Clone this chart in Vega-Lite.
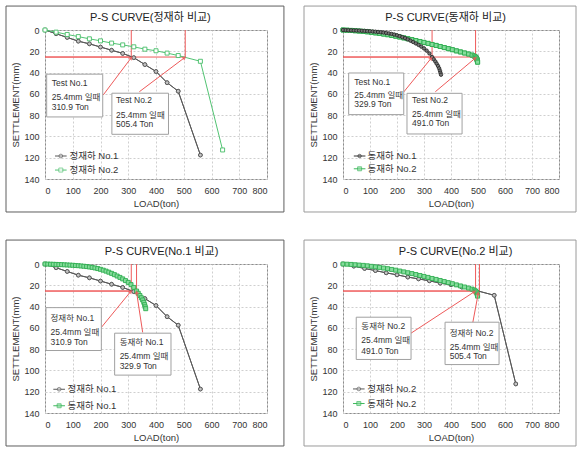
{
"$schema": "https://vega.github.io/schema/vega-lite/v6.json",
"padding": 5,
"background": "white",
"config": {
 "font": "Liberation Sans, Noto Sans CJK KR",
 "view": {"stroke": "#8c8c8c", "strokeWidth": 1},
 "scale": {"continuousPadding": 0},
 "axis": {"grid": true, "gridColor": "#cfcfcf", "gridDash": [2,2], "gridWidth": 1, "domain": false, "ticks": false, "tickSize": 0, "labelOverlap": false, "labelFontSize": 9, "labelColor": "#333333", "titleFontSize": 9.5, "titleFontWeight": "normal", "titleColor": "#333333"},
 "axisX": {"labelPadding": 7, "titlePadding": 3},
 "axisY": {"labelPadding": 6, "titlePadding": 3},
 "text": {"fontSize": 8.5, "color": "#333333", "align": "left", "baseline": "middle"}
},
"datasets": {
 "ps": [
  {"series":"정재하 No.1","load":0,"settle":0},
  {"series":"정재하 No.1","load":40,"settle":3.5},
  {"series":"정재하 No.1","load":80,"settle":7},
  {"series":"정재하 No.1","load":120,"settle":10.5},
  {"series":"정재하 No.1","load":160,"settle":13},
  {"series":"정재하 No.1","load":200,"settle":16},
  {"series":"정재하 No.1","load":240,"settle":19},
  {"series":"정재하 No.1","load":280,"settle":22},
  {"series":"정재하 No.1","load":320,"settle":26},
  {"series":"정재하 No.1","load":360,"settle":32.5},
  {"series":"정재하 No.1","load":400,"settle":39},
  {"series":"정재하 No.1","load":440,"settle":49.5},
  {"series":"정재하 No.1","load":480,"settle":57.5},
  {"series":"정재하 No.1","load":560,"settle":117.5},
  {"series":"정재하 No.2","load":0,"settle":0},
  {"series":"정재하 No.2","load":40,"settle":2},
  {"series":"정재하 No.2","load":80,"settle":4.2},
  {"series":"정재하 No.2","load":120,"settle":6.2},
  {"series":"정재하 No.2","load":160,"settle":8.3},
  {"series":"정재하 No.2","load":200,"settle":10.2},
  {"series":"정재하 No.2","load":240,"settle":12.3},
  {"series":"정재하 No.2","load":280,"settle":14},
  {"series":"정재하 No.2","load":320,"settle":15.8},
  {"series":"정재하 No.2","load":360,"settle":18},
  {"series":"정재하 No.2","load":400,"settle":19.5},
  {"series":"정재하 No.2","load":440,"settle":21.7},
  {"series":"정재하 No.2","load":480,"settle":24},
  {"series":"정재하 No.2","load":560,"settle":29.4},
  {"series":"정재하 No.2","load":640,"settle":112.7},
  {"series":"동재하 No.1","load":0,"settle":0},
  {"series":"동재하 No.1","load":10,"settle":0.1},
  {"series":"동재하 No.1","load":20,"settle":0.2},
  {"series":"동재하 No.1","load":30,"settle":0.3},
  {"series":"동재하 No.1","load":40,"settle":0.4},
  {"series":"동재하 No.1","load":50,"settle":0.5},
  {"series":"동재하 No.1","load":60,"settle":0.6},
  {"series":"동재하 No.1","load":70,"settle":0.75},
  {"series":"동재하 No.1","load":80,"settle":0.9},
  {"series":"동재하 No.1","load":90,"settle":1.05},
  {"series":"동재하 No.1","load":100,"settle":1.2},
  {"series":"동재하 No.1","load":110,"settle":1.4},
  {"series":"동재하 No.1","load":120,"settle":1.6},
  {"series":"동재하 No.1","load":130,"settle":1.85},
  {"series":"동재하 No.1","load":140,"settle":2.1},
  {"series":"동재하 No.1","load":150,"settle":2.4},
  {"series":"동재하 No.1","load":160,"settle":2.8},
  {"series":"동재하 No.1","load":170,"settle":3.2},
  {"series":"동재하 No.1","load":180,"settle":3.7},
  {"series":"동재하 No.1","load":190,"settle":4.3},
  {"series":"동재하 No.1","load":200,"settle":5.0},
  {"series":"동재하 No.1","load":210,"settle":5.8},
  {"series":"동재하 No.1","load":220,"settle":6.7},
  {"series":"동재하 No.1","load":230,"settle":7.7},
  {"series":"동재하 No.1","load":240,"settle":8.8},
  {"series":"동재하 No.1","load":250,"settle":10.0},
  {"series":"동재하 No.1","load":260,"settle":11.3},
  {"series":"동재하 No.1","load":270,"settle":12.6},
  {"series":"동재하 No.1","load":280,"settle":14.0},
  {"series":"동재하 No.1","load":290,"settle":15.6},
  {"series":"동재하 No.1","load":300,"settle":17.3},
  {"series":"동재하 No.1","load":310,"settle":19.4},
  {"series":"동재하 No.1","load":320,"settle":22.0},
  {"series":"동재하 No.1","load":330,"settle":25.4},
  {"series":"동재하 No.1","load":336,"settle":27.5},
  {"series":"동재하 No.1","load":342,"settle":29.6},
  {"series":"동재하 No.1","load":347,"settle":31.7},
  {"series":"동재하 No.1","load":352,"settle":33.8},
  {"series":"동재하 No.1","load":356,"settle":36.0},
  {"series":"동재하 No.1","load":359,"settle":38.2},
  {"series":"동재하 No.1","load":361,"settle":40.2},
  {"series":"동재하 No.1","load":363,"settle":42.0},
  {"series":"동재하 No.2","load":0,"settle":0},
  {"series":"동재하 No.2","load":15,"settle":0.2},
  {"series":"동재하 No.2","load":30,"settle":0.4},
  {"series":"동재하 No.2","load":45,"settle":0.7},
  {"series":"동재하 No.2","load":60,"settle":1.0},
  {"series":"동재하 No.2","load":75,"settle":1.3},
  {"series":"동재하 No.2","load":90,"settle":1.7},
  {"series":"동재하 No.2","load":105,"settle":2.2},
  {"series":"동재하 No.2","load":120,"settle":2.7},
  {"series":"동재하 No.2","load":135,"settle":3.2},
  {"series":"동재하 No.2","load":150,"settle":3.8},
  {"series":"동재하 No.2","load":165,"settle":4.4},
  {"series":"동재하 No.2","load":180,"settle":5.1},
  {"series":"동재하 No.2","load":195,"settle":5.8},
  {"series":"동재하 No.2","load":210,"settle":6.6},
  {"series":"동재하 No.2","load":225,"settle":7.4},
  {"series":"동재하 No.2","load":240,"settle":8.2},
  {"series":"동재하 No.2","load":255,"settle":9.0},
  {"series":"동재하 No.2","load":270,"settle":9.9},
  {"series":"동재하 No.2","load":285,"settle":10.8},
  {"series":"동재하 No.2","load":300,"settle":11.7},
  {"series":"동재하 No.2","load":315,"settle":12.6},
  {"series":"동재하 No.2","load":330,"settle":13.6},
  {"series":"동재하 No.2","load":345,"settle":14.5},
  {"series":"동재하 No.2","load":360,"settle":15.5},
  {"series":"동재하 No.2","load":375,"settle":16.5},
  {"series":"동재하 No.2","load":390,"settle":17.5},
  {"series":"동재하 No.2","load":405,"settle":18.5},
  {"series":"동재하 No.2","load":420,"settle":19.6},
  {"series":"동재하 No.2","load":435,"settle":20.6},
  {"series":"동재하 No.2","load":450,"settle":21.6},
  {"series":"동재하 No.2","load":465,"settle":22.6},
  {"series":"동재하 No.2","load":478,"settle":23.6},
  {"series":"동재하 No.2","load":486,"settle":24.5},
  {"series":"동재하 No.2","load":491,"settle":25.4},
  {"series":"동재하 No.2","load":494,"settle":26.3},
  {"series":"동재하 No.2","load":496,"settle":27.3},
  {"series":"동재하 No.2","load":497,"settle":28.3},
  {"series":"동재하 No.2","load":498,"settle":29.3},
  {"series":"동재하 No.2","load":498.5,"settle":30.2}
 ],
 "ann": [
  {"series":"정재하 No.1","load":310.9,"settle":25.4},
  {"series":"정재하 No.2","load":505.4,"settle":25.4},
  {"series":"동재하 No.1","load":329.9,"settle":25.4},
  {"series":"동재하 No.2","load":491.0,"settle":25.4}
 ]
},
"spacing": 26,
"vconcat": [
 {"spacing": 18, "hconcat": [
  {"width": 222, "height": 149,
   "data": {"values": [{}]},
   "resolve": {"axis": {"x": "independent", "y": "independent"}},
   "layer": [
    {"data":{"name":"ps"},"transform":[{"filter":{"field":"series","equal":"정재하 No.1"}}],
     "mark":{"type":"line","color":"#595959","strokeWidth":1,"point":{"shape":"circle","size":14,"filled":true,"fill":"#c4c4c4","stroke":"#4d4d4d","strokeWidth":0.8}},
     "encoding":{"x":{"field":"load","type":"quantitative","scale":{"domain":[0,800],"nice":false,"zero":false,"padding":0},"axis":{"title":"LOAD(ton)","values":[0,100,200,300,400,500,600,700,800],"labelOverlap":false}},
                 "y":{"field":"settle","type":"quantitative","scale":{"domain":[0,140],"reverse":true,"nice":false,"zero":false,"padding":0},"axis":{"title":"SETTLEMENT(mm)","values":[0,20,40,60,80,100,120,140],"labelOverlap":false}}}},
    {"mark": {"type":"rect","filled":false,"color":"#5e5e5e","strokeWidth":1},
     "encoding": {"x":{"datum":-140.5,"axis":null},"x2":{"datum":861},"y":{"datum":-22.5,"axis":null},"y2":{"datum":171}}},
    {"mark":{"type":"text","text":"P-S CURVE(정재하 비교)","align":"center","fontSize":11,"color":"#222222"},"encoding":{"x":{"datum":380,"axis":null},"y":{"datum":-11,"axis":null}}},
    {"data":{"name":"ann"},"transform":[{"filter":{"field":"series","oneOf":["정재하 No.1","정재하 No.2"]}}],
     "mark":{"type":"rule","color":"#ee5a5a","strokeWidth":1},
     "encoding":{"x":{"field":"load","type":"quantitative","axis":null},"x2":{"datum":0},"y":{"field":"settle","type":"quantitative","axis":null}}},
    {"data":{"name":"ann"},"transform":[{"filter":{"field":"series","oneOf":["정재하 No.1","정재하 No.2"]}}],
     "mark":{"type":"rule","color":"#ee5a5a","strokeWidth":1},
     "encoding":{"x":{"field":"load","type":"quantitative","axis":null},"y":{"field":"settle","type":"quantitative","axis":null},"y2":{"datum":0}}},
    {"data":{"name":"ps"},"transform":[{"filter":{"field":"series","equal":"정재하 No.1"}}],
     "mark":{"type":"line","color":"#595959","strokeWidth":1,"point":{"shape":"circle","size":14,"filled":true,"fill":"#c4c4c4","stroke":"#4d4d4d","strokeWidth":0.8}},
     "encoding":{"x":{"field":"load","type":"quantitative","axis":null},"y":{"field":"settle","type":"quantitative","axis":null}}},
    {"data":{"name":"ps"},"transform":[{"filter":{"field":"series","equal":"정재하 No.2"}}],
     "mark":{"type":"line","color":"#52c473","strokeWidth":1,"point":{"shape":"square","size":16,"filled":true,"fill":"#ffffff","stroke":"#45bd67","strokeWidth":0.9}},
     "encoding":{"x":{"field":"load","type":"quantitative","axis":null},"y":{"field":"settle","type":"quantitative","axis":null}}},
    {"mark":{"type":"rule","color":"#ee5a5a","strokeWidth":1},"encoding":{"x":{"datum":210,"axis":null},"y":{"datum":61,"axis":null},"x2":{"datum":311},"y2":{"datum":26}}},
    {"mark":{"type":"point","shape":"triangle-up","filled":true,"color":"#ee5a5a","size":22,"angle":37},"encoding":{"x":{"datum":311,"axis":null},"y":{"datum":26,"axis":null}}},
    {"mark":{"type":"rule","color":"#ee5a5a","strokeWidth":1},"encoding":{"x":{"datum":340,"axis":null},"y":{"datum":58,"axis":null},"x2":{"datum":503},"y2":{"datum":26}}},
    {"mark":{"type":"point","shape":"triangle-up","filled":true,"color":"#ee5a5a","size":22,"angle":53},"encoding":{"x":{"datum":503,"axis":null},"y":{"datum":26,"axis":null}}},
    {"mark":{"type":"rect","fill":"white","stroke":"#a0a0a0","strokeWidth":1},"encoding":{"x":{"datum":6,"axis":null},"x2":{"datum":208},"y":{"datum":41.5,"axis":null},"y2":{"datum":81.7}}},
    {"mark":{"type":"rect","fill":"white","stroke":"#a0a0a0","strokeWidth":1},"encoding":{"x":{"datum":241,"axis":null},"x2":{"datum":445},"y":{"datum":59.4,"axis":null},"y2":{"datum":98}}},
    {"mark":{"type":"text","text":"Test No.1"},"encoding":{"x":{"datum":24,"axis":null},"y":{"datum":50,"axis":null}}},
    {"mark":{"type":"text","text":"25.4mm 일때"},"encoding":{"x":{"datum":24,"axis":null},"y":{"datum":62.5,"axis":null}}},
    {"mark":{"type":"text","text":"310.9 Ton"},"encoding":{"x":{"datum":24,"axis":null},"y":{"datum":72.5,"axis":null}}},
    {"mark":{"type":"text","text":"Test No.2"},"encoding":{"x":{"datum":256,"axis":null},"y":{"datum":66,"axis":null}}},
    {"mark":{"type":"text","text":"25.4mm 일때"},"encoding":{"x":{"datum":256,"axis":null},"y":{"datum":79.5,"axis":null}}},
    {"mark":{"type":"text","text":"505.4 Ton"},"encoding":{"x":{"datum":256,"axis":null},"y":{"datum":88,"axis":null}}},
    {"mark":{"type":"rule","color":"#595959","strokeWidth":1},"encoding":{"x":{"datum":36,"axis":null},"x2":{"datum":78},"y":{"datum":118.4,"axis":null}}},
    {"mark":{"type":"point","shape":"circle","size":14,"filled":true,"fill":"#c4c4c4","stroke":"#4d4d4d","strokeWidth":0.8},"encoding":{"x":{"datum":57,"axis":null},"y":{"datum":118.4,"axis":null}}},
    {"mark":{"type":"text","text":"정재하 No.1","fontSize":9.5},"encoding":{"x":{"datum":88,"axis":null},"y":{"datum":118.4,"axis":null}}},
    {"mark":{"type":"rule","color":"#52c473","strokeWidth":1},"encoding":{"x":{"datum":36,"axis":null},"x2":{"datum":78},"y":{"datum":131.6,"axis":null}}},
    {"mark":{"type":"point","shape":"square","size":16,"filled":true,"fill":"#ffffff","stroke":"#45bd67","strokeWidth":0.9},"encoding":{"x":{"datum":57,"axis":null},"y":{"datum":131.6,"axis":null}}},
    {"mark":{"type":"text","text":"정재하 No.2","fontSize":9.5},"encoding":{"x":{"datum":88,"axis":null},"y":{"datum":131.6,"axis":null}}}
   ]},
  {"width": 216, "height": 149,
   "data": {"values": [{}]},
   "resolve": {"axis": {"x": "independent", "y": "independent"}},
   "layer": [
    {"data":{"name":"ps"},"transform":[{"filter":{"field":"series","equal":"동재하 No.2"}}],
     "mark":{"type":"line","color":"#3fb95e","strokeWidth":1,"point":{"shape":"square","size":16,"filled":true,"fill":"#86dc9c","stroke":"#2fae50","strokeWidth":0.9}},
     "encoding":{"x":{"field":"load","type":"quantitative","scale":{"domain":[0,800],"nice":false,"zero":false,"padding":0},"axis":{"title":"LOAD(ton)","values":[0,100,200,300,400,500,600,700,800],"labelOverlap":false}},
                 "y":{"field":"settle","type":"quantitative","scale":{"domain":[0,140],"reverse":true,"nice":false,"zero":false,"padding":0},"axis":{"title":"SETTLEMENT(mm)","values":[0,20,40,60,80,100,120,140],"labelOverlap":false}}}},
    {"mark": {"type":"rect","filled":false,"color":"#9a9a9a","strokeWidth":1},
     "encoding": {"x":{"datum":-144.4,"axis":null},"x2":{"datum":863},"y":{"datum":-22.5,"axis":null},"y2":{"datum":171}}},
    {"mark":{"type":"text","text":"P-S CURVE(동재하 비교)","align":"center","fontSize":11,"color":"#222222"},"encoding":{"x":{"datum":380,"axis":null},"y":{"datum":-11,"axis":null}}},
    {"data":{"name":"ann"},"transform":[{"filter":{"field":"series","oneOf":["동재하 No.1","동재하 No.2"]}}],
     "mark":{"type":"rule","color":"#ee5a5a","strokeWidth":1},
     "encoding":{"x":{"field":"load","type":"quantitative","axis":null},"x2":{"datum":0},"y":{"field":"settle","type":"quantitative","axis":null}}},
    {"data":{"name":"ann"},"transform":[{"filter":{"field":"series","oneOf":["동재하 No.1","동재하 No.2"]}}],
     "mark":{"type":"rule","color":"#ee5a5a","strokeWidth":1},
     "encoding":{"x":{"field":"load","type":"quantitative","axis":null},"y":{"field":"settle","type":"quantitative","axis":null},"y2":{"datum":0}}},
    {"data":{"name":"ps"},"transform":[{"filter":{"field":"series","equal":"동재하 No.2"}}],
     "mark":{"type":"line","color":"#3fb95e","strokeWidth":1,"point":{"shape":"square","size":16,"filled":true,"fill":"#86dc9c","stroke":"#2fae50","strokeWidth":0.9}},
     "encoding":{"x":{"field":"load","type":"quantitative","axis":null},"y":{"field":"settle","type":"quantitative","axis":null}}},
    {"data":{"name":"ps"},"transform":[{"filter":{"field":"series","equal":"동재하 No.1"}}],
     "mark":{"type":"line","color":"#333333","strokeWidth":1,"point":{"shape":"circle","size":12,"filled":true,"fill":"#777777","stroke":"#222222","strokeWidth":0.8}},
     "encoding":{"x":{"field":"load","type":"quantitative","axis":null},"y":{"field":"settle","type":"quantitative","axis":null}}},
    {"mark":{"type":"rule","color":"#ee5a5a","strokeWidth":1},"encoding":{"x":{"datum":225,"axis":null},"y":{"datum":58.2,"axis":null},"x2":{"datum":327},"y2":{"datum":26.4}}},
    {"mark":{"type":"point","shape":"triangle-up","filled":true,"color":"#ee5a5a","size":22,"angle":39},"encoding":{"x":{"datum":327,"axis":null},"y":{"datum":26.4,"axis":null}}},
    {"mark":{"type":"rule","color":"#ee5a5a","strokeWidth":1},"encoding":{"x":{"datum":342,"axis":null},"y":{"datum":58,"axis":null},"x2":{"datum":490},"y2":{"datum":26.4}}},
    {"mark":{"type":"point","shape":"triangle-up","filled":true,"color":"#ee5a5a","size":22,"angle":50},"encoding":{"x":{"datum":490,"axis":null},"y":{"datum":26.4,"axis":null}}},
    {"mark":{"type":"rect","fill":"white","stroke":"#a0a0a0","strokeWidth":1},"encoding":{"x":{"datum":21,"axis":null},"x2":{"datum":225},"y":{"datum":40.4,"axis":null},"y2":{"datum":79.5}}},
    {"mark":{"type":"rect","fill":"white","stroke":"#a0a0a0","strokeWidth":1},"encoding":{"x":{"datum":237,"axis":null},"x2":{"datum":441},"y":{"datum":59.5,"axis":null},"y2":{"datum":97.7}}},
    {"mark":{"type":"text","text":"Test No.1"},"encoding":{"x":{"datum":42,"axis":null},"y":{"datum":48.7,"axis":null}}},
    {"mark":{"type":"text","text":"25.4mm 일때"},"encoding":{"x":{"datum":42,"axis":null},"y":{"datum":61,"axis":null}}},
    {"mark":{"type":"text","text":"329.9 Ton"},"encoding":{"x":{"datum":42,"axis":null},"y":{"datum":69.4,"axis":null}}},
    {"mark":{"type":"text","text":"Test No.2"},"encoding":{"x":{"datum":256,"axis":null},"y":{"datum":66.2,"axis":null}}},
    {"mark":{"type":"text","text":"25.4mm 일때"},"encoding":{"x":{"datum":256,"axis":null},"y":{"datum":79,"axis":null}}},
    {"mark":{"type":"text","text":"491.0 Ton"},"encoding":{"x":{"datum":256,"axis":null},"y":{"datum":87.2,"axis":null}}},
    {"mark":{"type":"rule","color":"#333333","strokeWidth":1},"encoding":{"x":{"datum":40,"axis":null},"x2":{"datum":83},"y":{"datum":118.4,"axis":null}}},
    {"mark":{"type":"point","shape":"circle","size":12,"filled":true,"fill":"#777777","stroke":"#222222","strokeWidth":0.8},"encoding":{"x":{"datum":61.5,"axis":null},"y":{"datum":118.4,"axis":null}}},
    {"mark":{"type":"text","text":"동재하 No.1","fontSize":9.5},"encoding":{"x":{"datum":91,"axis":null},"y":{"datum":118.4,"axis":null}}},
    {"mark":{"type":"rule","color":"#3fb95e","strokeWidth":1},"encoding":{"x":{"datum":40,"axis":null},"x2":{"datum":83},"y":{"datum":130.4,"axis":null}}},
    {"mark":{"type":"point","shape":"square","size":16,"filled":true,"fill":"#86dc9c","stroke":"#2fae50","strokeWidth":0.9},"encoding":{"x":{"datum":61.5,"axis":null},"y":{"datum":130.4,"axis":null}}},
    {"mark":{"type":"text","text":"동재하 No.2","fontSize":9.5},"encoding":{"x":{"datum":91,"axis":null},"y":{"datum":130.4,"axis":null}}}
   ]}
 ]},
 {"spacing": 18, "hconcat": [
  {"width": 222, "height": 149,
   "data": {"values": [{}]},
   "resolve": {"axis": {"x": "independent", "y": "independent"}},
   "layer": [
    {"data":{"name":"ps"},"transform":[{"filter":{"field":"series","equal":"정재하 No.1"}}],
     "mark":{"type":"line","color":"#595959","strokeWidth":1,"point":{"shape":"circle","size":14,"filled":true,"fill":"#c4c4c4","stroke":"#4d4d4d","strokeWidth":0.8}},
     "encoding":{"x":{"field":"load","type":"quantitative","scale":{"domain":[0,800],"nice":false,"zero":false,"padding":0},"axis":{"title":"LOAD(ton)","values":[0,100,200,300,400,500,600,700,800],"labelOverlap":false}},
                 "y":{"field":"settle","type":"quantitative","scale":{"domain":[0,140],"reverse":true,"nice":false,"zero":false,"padding":0},"axis":{"title":"SETTLEMENT(mm)","values":[0,20,40,60,80,100,120,140],"labelOverlap":false}}}},
    {"mark": {"type":"rect","filled":false,"color":"#5e5e5e","strokeWidth":1},
     "encoding": {"x":{"datum":-140.5,"axis":null},"x2":{"datum":861},"y":{"datum":-22.5,"axis":null},"y2":{"datum":171}}},
    {"mark":{"type":"text","text":"P-S CURVE(No.1 비교)","align":"center","fontSize":11,"color":"#222222"},"encoding":{"x":{"datum":420,"axis":null},"y":{"datum":-11.5,"axis":null}}},
    {"data":{"name":"ann"},"transform":[{"filter":{"field":"series","oneOf":["정재하 No.1","동재하 No.1"]}}],
     "mark":{"type":"rule","color":"#ee5a5a","strokeWidth":1},
     "encoding":{"x":{"field":"load","type":"quantitative","axis":null},"x2":{"datum":0},"y":{"field":"settle","type":"quantitative","axis":null}}},
    {"data":{"name":"ann"},"transform":[{"filter":{"field":"series","oneOf":["정재하 No.1","동재하 No.1"]}}],
     "mark":{"type":"rule","color":"#ee5a5a","strokeWidth":1},
     "encoding":{"x":{"field":"load","type":"quantitative","axis":null},"y":{"field":"settle","type":"quantitative","axis":null},"y2":{"datum":0}}},
    {"data":{"name":"ps"},"transform":[{"filter":{"field":"series","equal":"정재하 No.1"}}],
     "mark":{"type":"line","color":"#595959","strokeWidth":1,"point":{"shape":"circle","size":14,"filled":true,"fill":"#c4c4c4","stroke":"#4d4d4d","strokeWidth":0.8}},
     "encoding":{"x":{"field":"load","type":"quantitative","axis":null},"y":{"field":"settle","type":"quantitative","axis":null}}},
    {"data":{"name":"ps"},"transform":[{"filter":{"field":"series","equal":"동재하 No.1"}}],
     "mark":{"type":"line","color":"#3fb95e","strokeWidth":1,"point":{"shape":"square","size":16,"filled":true,"fill":"#86dc9c","stroke":"#2fae50","strokeWidth":0.9}},
     "encoding":{"x":{"field":"load","type":"quantitative","axis":null},"y":{"field":"settle","type":"quantitative","axis":null}}},
    {"mark":{"type":"rule","color":"#ee5a5a","strokeWidth":1},"encoding":{"x":{"datum":203,"axis":null},"y":{"datum":59.6,"axis":null},"x2":{"datum":309},"y2":{"datum":25.8}}},
    {"mark":{"type":"point","shape":"triangle-up","filled":true,"color":"#ee5a5a","size":22,"angle":39},"encoding":{"x":{"datum":309,"axis":null},"y":{"datum":25.8,"axis":null}}},
    {"mark":{"type":"rule","color":"#ee5a5a","strokeWidth":1},"encoding":{"x":{"datum":352,"axis":null},"y":{"datum":64.3,"axis":null},"x2":{"datum":330},"y2":{"datum":26.5}}},
    {"mark":{"type":"point","shape":"triangle-up","filled":true,"color":"#ee5a5a","size":22,"angle":-9},"encoding":{"x":{"datum":330,"axis":null},"y":{"datum":26.5,"axis":null}}},
    {"mark":{"type":"rect","fill":"white","stroke":"#a0a0a0","strokeWidth":1},"encoding":{"x":{"datum":3.6,"axis":null},"x2":{"datum":203},"y":{"datum":41,"axis":null},"y2":{"datum":81.3}}},
    {"mark":{"type":"rect","fill":"white","stroke":"#a0a0a0","strokeWidth":1},"encoding":{"x":{"datum":251,"axis":null},"x2":{"datum":454},"y":{"datum":65,"axis":null},"y2":{"datum":104.4}}},
    {"mark":{"type":"text","text":"정재하 No.1"},"encoding":{"x":{"datum":20,"axis":null},"y":{"datum":50.4,"axis":null}}},
    {"mark":{"type":"text","text":"25.4mm 일때"},"encoding":{"x":{"datum":20,"axis":null},"y":{"datum":63.7,"axis":null}}},
    {"mark":{"type":"text","text":"310.9 Ton"},"encoding":{"x":{"datum":20,"axis":null},"y":{"datum":73.5,"axis":null}}},
    {"mark":{"type":"text","text":"동재하 No.1"},"encoding":{"x":{"datum":269,"axis":null},"y":{"datum":73.5,"axis":null}}},
    {"mark":{"type":"text","text":"25.4mm 일때"},"encoding":{"x":{"datum":269,"axis":null},"y":{"datum":86,"axis":null}}},
    {"mark":{"type":"text","text":"329.9 Ton"},"encoding":{"x":{"datum":269,"axis":null},"y":{"datum":96,"axis":null}}},
    {"mark":{"type":"rule","color":"#595959","strokeWidth":1},"encoding":{"x":{"datum":30,"axis":null},"x2":{"datum":72},"y":{"datum":117.7,"axis":null}}},
    {"mark":{"type":"point","shape":"circle","size":14,"filled":true,"fill":"#c4c4c4","stroke":"#4d4d4d","strokeWidth":0.8},"encoding":{"x":{"datum":51,"axis":null},"y":{"datum":117.7,"axis":null}}},
    {"mark":{"type":"text","text":"정재하 No.1","fontSize":9.5},"encoding":{"x":{"datum":81,"axis":null},"y":{"datum":117.7,"axis":null}}},
    {"mark":{"type":"rule","color":"#3fb95e","strokeWidth":1},"encoding":{"x":{"datum":30,"axis":null},"x2":{"datum":72},"y":{"datum":133.2,"axis":null}}},
    {"mark":{"type":"point","shape":"square","size":16,"filled":true,"fill":"#86dc9c","stroke":"#2fae50","strokeWidth":0.9},"encoding":{"x":{"datum":51,"axis":null},"y":{"datum":133.2,"axis":null}}},
    {"mark":{"type":"text","text":"동재하 No.1","fontSize":9.5},"encoding":{"x":{"datum":81,"axis":null},"y":{"datum":133.2,"axis":null}}}
   ]},
  {"width": 216, "height": 149,
   "data": {"values": [{}]},
   "resolve": {"axis": {"x": "independent", "y": "independent"}},
   "layer": [
    {"data":{"name":"ps"},"transform":[{"filter":{"field":"series","equal":"정재하 No.2"}}],
     "mark":{"type":"line","color":"#595959","strokeWidth":1,"point":{"shape":"circle","size":14,"filled":true,"fill":"#c4c4c4","stroke":"#4d4d4d","strokeWidth":0.8}},
     "encoding":{"x":{"field":"load","type":"quantitative","scale":{"domain":[0,800],"nice":false,"zero":false,"padding":0},"axis":{"title":"LOAD(ton)","values":[0,100,200,300,400,500,600,700,800],"labelOverlap":false}},
                 "y":{"field":"settle","type":"quantitative","scale":{"domain":[0,140],"reverse":true,"nice":false,"zero":false,"padding":0},"axis":{"title":"SETTLEMENT(mm)","values":[0,20,40,60,80,100,120,140],"labelOverlap":false}}}},
    {"mark": {"type":"rect","filled":false,"color":"#9a9a9a","strokeWidth":1},
     "encoding": {"x":{"datum":-144.4,"axis":null},"x2":{"datum":863},"y":{"datum":-22.5,"axis":null},"y2":{"datum":171}}},
    {"mark":{"type":"text","text":"P-S CURVE(No.2 비교)","align":"center","fontSize":11,"color":"#222222"},"encoding":{"x":{"datum":417,"axis":null},"y":{"datum":-11.5,"axis":null}}},
    {"data":{"name":"ann"},"transform":[{"filter":{"field":"series","oneOf":["정재하 No.2","동재하 No.2"]}}],
     "mark":{"type":"rule","color":"#ee5a5a","strokeWidth":1},
     "encoding":{"x":{"field":"load","type":"quantitative","axis":null},"x2":{"datum":0},"y":{"field":"settle","type":"quantitative","axis":null}}},
    {"data":{"name":"ann"},"transform":[{"filter":{"field":"series","oneOf":["정재하 No.2","동재하 No.2"]}}],
     "mark":{"type":"rule","color":"#ee5a5a","strokeWidth":1},
     "encoding":{"x":{"field":"load","type":"quantitative","axis":null},"y":{"field":"settle","type":"quantitative","axis":null},"y2":{"datum":0}}},
    {"data":{"name":"ps"},"transform":[{"filter":{"field":"series","equal":"정재하 No.2"}}],
     "mark":{"type":"line","color":"#595959","strokeWidth":1,"point":{"shape":"circle","size":14,"filled":true,"fill":"#c4c4c4","stroke":"#4d4d4d","strokeWidth":0.8}},
     "encoding":{"x":{"field":"load","type":"quantitative","axis":null},"y":{"field":"settle","type":"quantitative","axis":null}}},
    {"data":{"name":"ps"},"transform":[{"filter":{"field":"series","equal":"동재하 No.2"}}],
     "mark":{"type":"line","color":"#3fb95e","strokeWidth":1,"point":{"shape":"square","size":16,"filled":true,"fill":"#86dc9c","stroke":"#2fae50","strokeWidth":0.9}},
     "encoding":{"x":{"field":"load","type":"quantitative","axis":null},"y":{"field":"settle","type":"quantitative","axis":null}}},
    {"mark":{"type":"rule","color":"#ee5a5a","strokeWidth":1},"encoding":{"x":{"datum":252,"axis":null},"y":{"datum":65,"axis":null},"x2":{"datum":487},"y2":{"datum":26}}},
    {"mark":{"type":"point","shape":"triangle-up","filled":true,"color":"#ee5a5a","size":22,"angle":57},"encoding":{"x":{"datum":487,"axis":null},"y":{"datum":26,"axis":null}}},
    {"mark":{"type":"rule","color":"#ee5a5a","strokeWidth":1},"encoding":{"x":{"datum":480,"axis":null},"y":{"datum":56,"axis":null},"x2":{"datum":501},"y2":{"datum":27.5}}},
    {"mark":{"type":"point","shape":"triangle-up","filled":true,"color":"#ee5a5a","size":22,"angle":10},"encoding":{"x":{"datum":501,"axis":null},"y":{"datum":27.5,"axis":null}}},
    {"mark":{"type":"rect","fill":"white","stroke":"#a0a0a0","strokeWidth":1},"encoding":{"x":{"datum":49,"axis":null},"x2":{"datum":252},"y":{"datum":50,"axis":null},"y2":{"datum":89.7}}},
    {"mark":{"type":"rect","fill":"white","stroke":"#a0a0a0","strokeWidth":1},"encoding":{"x":{"datum":378,"axis":null},"x2":{"datum":578},"y":{"datum":54.7,"axis":null},"y2":{"datum":94.5}}},
    {"mark":{"type":"text","text":"동재하 No.2"},"encoding":{"x":{"datum":68,"axis":null},"y":{"datum":58.5,"axis":null}}},
    {"mark":{"type":"text","text":"25.4mm 일때"},"encoding":{"x":{"datum":68,"axis":null},"y":{"datum":71.3,"axis":null}}},
    {"mark":{"type":"text","text":"491.0 Ton"},"encoding":{"x":{"datum":68,"axis":null},"y":{"datum":81.8,"axis":null}}},
    {"mark":{"type":"text","text":"정재하 No.2"},"encoding":{"x":{"datum":395,"axis":null},"y":{"datum":65.2,"axis":null}}},
    {"mark":{"type":"text","text":"25.4mm 일때"},"encoding":{"x":{"datum":395,"axis":null},"y":{"datum":77.6,"axis":null}}},
    {"mark":{"type":"text","text":"505.4 Ton"},"encoding":{"x":{"datum":395,"axis":null},"y":{"datum":86.5,"axis":null}}},
    {"mark":{"type":"rule","color":"#595959","strokeWidth":1},"encoding":{"x":{"datum":37,"axis":null},"x2":{"datum":80},"y":{"datum":117.4,"axis":null}}},
    {"mark":{"type":"point","shape":"circle","size":14,"filled":true,"fill":"#c4c4c4","stroke":"#4d4d4d","strokeWidth":0.8},"encoding":{"x":{"datum":58.5,"axis":null},"y":{"datum":117.4,"axis":null}}},
    {"mark":{"type":"text","text":"정재하 No.2","fontSize":9.5},"encoding":{"x":{"datum":90,"axis":null},"y":{"datum":117.4,"axis":null}}},
    {"mark":{"type":"rule","color":"#3fb95e","strokeWidth":1},"encoding":{"x":{"datum":37,"axis":null},"x2":{"datum":80},"y":{"datum":131.1,"axis":null}}},
    {"mark":{"type":"point","shape":"square","size":16,"filled":true,"fill":"#86dc9c","stroke":"#2fae50","strokeWidth":0.9},"encoding":{"x":{"datum":58.5,"axis":null},"y":{"datum":131.1,"axis":null}}},
    {"mark":{"type":"text","text":"동재하 No.2","fontSize":9.5},"encoding":{"x":{"datum":90,"axis":null},"y":{"datum":131.1,"axis":null}}}
   ]}
 ]}
]
}
